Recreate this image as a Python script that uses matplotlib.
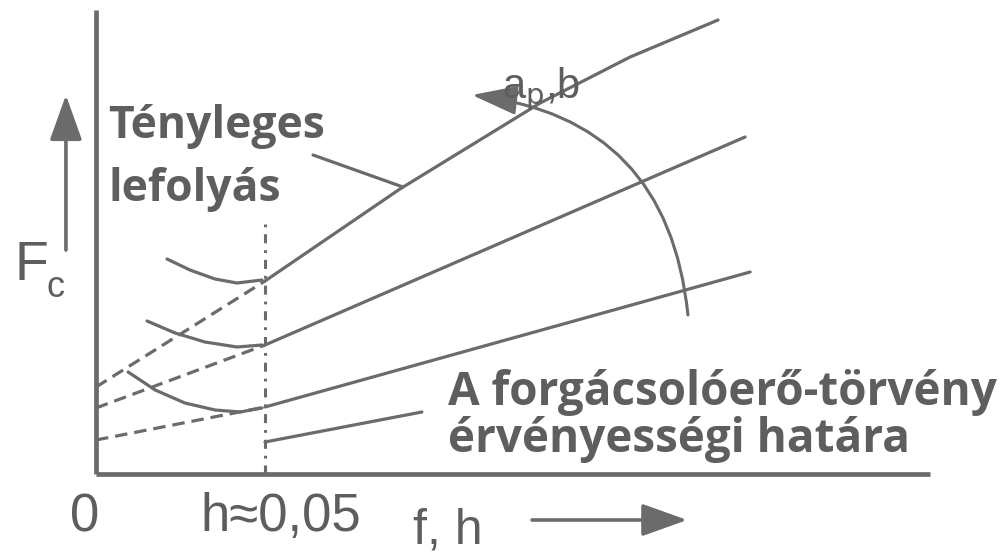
import matplotlib.pyplot as plt
from matplotlib.patches import FancyArrowPatch

plt.rcParams['lines.scale_dashes'] = False
plt.rcParams['lines.solid_capstyle'] = 'round'

GREY = '#6b6b6b'
TXT = '#5e5e5e'

# chip thickness h (x) and cutting force F_c in arbitrary units (y)
h_limit = 0.05
x_end = 0.2467
y_top = 4.64

# actual curves below the validity limit
act1_x = [0.0210, 0.0278, 0.0352, 0.0417, 0.0491]
act1_y = [2.15, 2.04, 1.95, 1.91, 1.94]
act2_x = [0.0151, 0.0234, 0.0322, 0.0417, 0.0491]
act2_y = [1.53, 1.41, 1.32, 1.27, 1.29]
act3_x = [0.0095, 0.0175, 0.0263, 0.0352, 0.0426, 0.0491]
act3_y = [1.02, 0.84, 0.71, 0.64, 0.62, 0.66]

# force law lines (valid range)
law1_x = [0.05, 0.0899, 0.1314, 0.1580, 0.1840]
law1_y = [1.93, 2.85, 3.71, 4.17, 4.54]
law2_x = [0.05, 0.1920]
law2_y = [1.29, 3.37]
law3_x = [0.05, 0.1935]
law3_y = [0.67, 2.02]

# extrapolation to h = 0
ext_x = [0.0, 0.05]
ext1_y = [0.87, 1.93]
ext2_y = [0.66, 1.29]
ext3_y = [0.34, 0.67]

fig = plt.figure(figsize=(10.02, 5.6), dpi=100, facecolor='w')
ax = fig.add_axes([0, 0, 1, 1])
ax.set_xlim(-0.0284, 0.2680)
ax.set_ylim(-0.86, 4.74)
ax.axis('off')

# axes
ax.plot([0, 0], [0, y_top], color=GREY, lw=3.4, solid_capstyle='butt')
ax.plot([0, x_end], [0, 0], color=GREY, lw=3.4, solid_capstyle='butt')

# validity limit
ax.plot([h_limit, h_limit], [0, 2.54], color=GREY, lw=2.2,
        dashes=[6.5, 5, 2, 5])

lw = 2.3
for xs, ys in [(act1_x, act1_y), (act2_x, act2_y), (act3_x, act3_y),
               (law1_x, law1_y), (law2_x, law2_y), (law3_x, law3_y)]:
    ax.plot(xs, ys, color=GREY, lw=lw)
for ys in [ext1_y, ext2_y, ext3_y]:
    ax.plot(ext_x, ys, color=GREY, lw=lw, dashes=[9, 5])

# leader lines
ax.plot([0.0642, 0.0908], [3.19, 2.87], color=GREY, lw=lw)
ax.plot([0.05, 0.0964], [0.32, 0.62], color=GREY, lw=lw)

# a_p, b arrow
arc = FancyArrowPatch((0.1751, 1.59), (0.1112, 3.79),
                      connectionstyle='arc3,rad=0.4',
                      arrowstyle='-|>,head_length=1.4,head_width=0.45',
                      mutation_scale=20, color=GREY, lw=2.2,
                      shrinkA=0, shrinkB=0)
ax.add_patch(arc)

# axis arrows
for a, b in [((-0.0089, 2.24), (-0.0089, 3.79)), ((0.1290, -0.46), (0.1749, -0.46))]:
    ax.add_patch(FancyArrowPatch(a, b, arrowstyle='-|>,head_length=1.4,head_width=0.5',
                                 mutation_scale=20, color=GREY, lw=2.6,
                                 shrinkA=0, shrinkB=0))

light = dict(family=['Liberation Sans', 'DejaVu Sans'], color=TXT)
bold = dict(family=['Open Sans', 'DejaVu Sans'], weight='bold', color=TXT)

ax.text(-0.0240, 1.94, 'F', fontsize=40, ha='left', va='baseline', **light)
ax.text(-0.0145, 1.77, 'c', fontsize=26, ha='left', va='baseline', **light)
ax.text(-0.0033, -0.43, '0', fontsize=38, ha='center', va='center', **light)
ax.text(0.0547, -0.43, 'h≈0,05', fontsize=38, ha='center', va='center', **light)
ax.text(0.0938, -0.70, 'f, h', fontsize=36, ha='left', va='baseline', **light)
ax.text(0.1200, 3.76, r'a$_{\rm p}$,b', fontsize=30, ha='left', va='baseline', **light)

ax.text(0.0036, 3.36, 'Tényleges', fontsize=32, ha='left', va='baseline', **bold)
ax.text(0.0036, 2.73, 'lefolyás', fontsize=32, ha='left', va='baseline', **bold)
ax.text(0.1041, 0.69, 'A forgácsolóerő-törvény', fontsize=33, ha='left', va='baseline', **bold)
ax.text(0.1041, 0.22, 'érvényességi határa', fontsize=33, ha='left', va='baseline', **bold)

fig.savefig('out.png', dpi=100, facecolor='w')
